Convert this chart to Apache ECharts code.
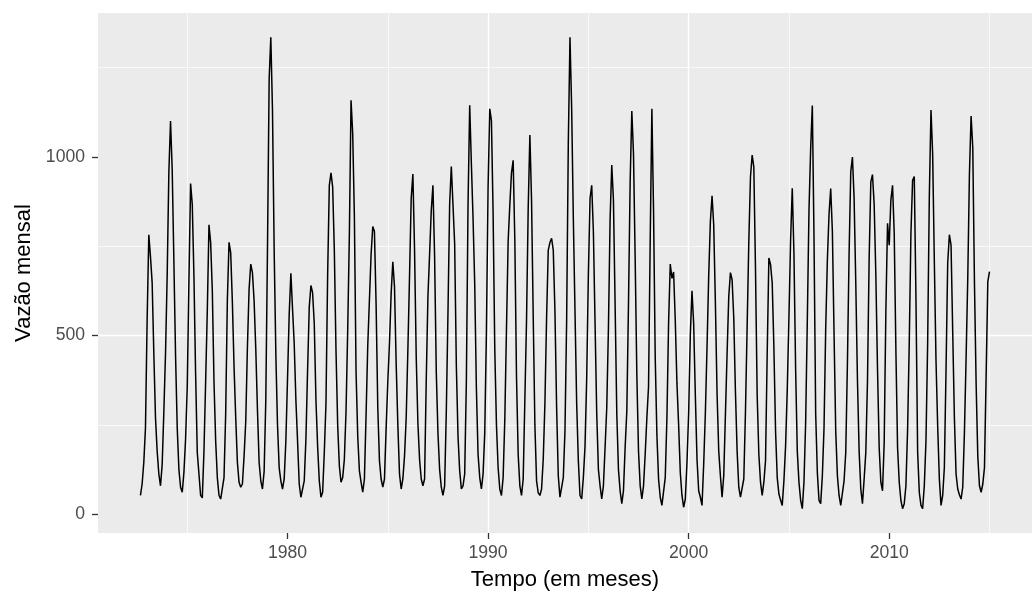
<!DOCTYPE html>
<html><head><meta charset="utf-8">
<script src="https://cdn.jsdelivr.net/npm/echarts@6/dist/echarts.min.js"></script>
<style>html,body{margin:0;padding:0;background:#fff}#c{width:1032px;height:596px}</style>
</head><body><div id="c"></div>
<script>
// Monthly flow series, first value = September 1972; each row = Sep..Aug
const startYear = 1972;
const startMonth = 9;
const flow1970s = [
  53, 85, 145, 242, 545, 782, 720, 648, 450, 270, 177, 113,
  80, 140, 288, 450, 671, 958, 1100, 963, 708, 445, 242, 126,
  76, 62, 117, 210, 357, 653, 925, 867, 667, 394, 173, 113,
  53, 46, 177, 371, 570, 810, 760, 625, 371, 205, 103, 53,
  43, 43, 103, 283, 600, 761, 731, 593, 413, 270, 145, 90,
  76, 85, 163, 260, 468, 630, 700, 676, 597, 463, 293, 145,
  94, 71, 120, 320, 740, 1216, 1334, 1129, 740, 450, 251, 131,
  94, 71, 99, 205, 380, 560, 674, 574, 477, 320, 205, 85
];
const flow1980s = [
  48, 48, 94, 210, 404, 580, 640, 620, 533, 320, 191, 94,
  48, 62, 173, 310, 671, 920, 955, 916, 739, 459, 251, 136,
  90, 103, 154, 288, 514, 782, 1158, 1064, 833, 399, 219, 122,
  90, 62, 99, 279, 472, 600, 727, 805, 791, 586, 298, 150,
  99, 76, 99, 242, 371, 480, 618, 706, 637, 422, 251, 113,
  71, 99, 163, 270, 459, 667, 884, 952, 740, 440, 256, 154,
  99, 80, 99, 376, 609, 727, 850, 920, 721, 399, 228, 126,
  76, 53, 80, 288, 565, 867, 973, 976, 757, 417, 219, 122,
  71, 80, 113, 371, 867, 1144, 980, 828, 644, 353, 168, 103,
  71, 113, 228, 510, 916, 1134, 1101, 842, 463, 251, 131, 71
];
const flow1990s = [
  53, 103, 265, 519, 764, 865, 955, 990, 766, 385, 168, 80,
  53, 99, 320, 542, 856, 1061, 879, 554, 251, 94, 60, 53,
  71, 154, 310, 549, 739, 760, 772, 739, 568, 299, 108, 48,
  53, 103, 233, 542, 1040, 1334, 1137, 829, 568, 310, 150, 53,
  43, 103, 191, 380, 671, 884, 920, 791, 536, 283, 126, 80,
  43, 80, 187, 298, 519, 824, 977, 879, 586, 283, 126, 66,
  30, 66, 187, 288, 586, 930, 1128, 1008, 716, 390, 177, 80,
  43, 80, 168, 270, 357, 768, 1134, 850, 440, 223, 99, 48,
  25, 25, 103, 270, 536, 700, 660, 678, 542, 367, 251, 117,
  53, 20, 43, 145, 283, 503, 625, 533, 334, 154, 66, 48
];
const flow2000s = [
  25, 140, 283, 468, 667, 819, 891, 809, 592, 339, 177, 108,
  48, 108, 279, 450, 609, 676, 656, 549, 343, 177, 76, 48,
  48, 99, 288, 526, 763, 944, 1005, 971, 685, 334, 168, 90,
  53, 90, 150, 450, 717, 699, 647, 468, 233, 103, 57, 40,
  25, 94, 191, 348, 549, 768, 912, 730, 408, 177, 90, 40,
  16, 90, 256, 542, 850, 1022, 1143, 776, 283, 117, 39, 30,
  108, 242, 519, 711, 840, 911, 791, 505, 233, 108, 53, 25,
  25, 94, 173, 422, 730, 958, 999, 884, 647, 376, 177, 71,
  30, 99, 173, 371, 717, 930, 950, 867, 671, 408, 187, 90,
  66, 201, 568, 814, 753, 879, 920, 786, 459, 187, 90, 39
];
const flow2010s = [
  16, 30, 80, 237, 481, 786, 934, 945, 607, 177, 62, 25,
  16, 80, 205, 477, 888, 1131, 1008, 708, 431, 247, 99, 25,
  53, 131, 404, 703, 782, 753, 510, 270, 113, 71, 55, 43,
  76, 228, 436, 660, 952, 1114, 1026, 651, 367, 163, 80, 62,
  85, 131, 390, 651, 679
];
const xTickLabels = [1980, 1990, 2000, 2010];
const yTickLabels = [0, 500, 1000];
const xTitle = 'Tempo (em meses)';
const yTitle = 'Vazão mensal';

const flow = [].concat(flow1970s, flow1980s, flow1990s, flow2000s, flow2010s);
const seriesData = flow.map((v, i) => [startYear + (startMonth - 1 + i) / 12, v]);

const FONT = 'Liberation Sans, Arial, sans-serif';
const chart = echarts.init(document.getElementById('c'), null, {renderer: 'canvas'});
chart.setOption({
  animation: false,
  backgroundColor: '#ffffff',
  grid: {left: 98, right: -12, top: 13, bottom: 58, show: true, backgroundColor: '#EBEBEB', borderWidth: 0},
  xAxis: {
    type: 'value', min: 1970.55, max: 2017.12, minInterval: 10, maxInterval: 10,
    name: xTitle, nameLocation: 'middle', nameGap: 36,
    nameTextStyle: {color: '#000000', fontSize: 22, fontFamily: FONT},
    axisLine: {show: false, onZero: false},
    axisTick: {show: true, length: 6, customValues: xTickLabels, lineStyle: {color: '#333333', width: 1.3}},
    axisLabel: {customValues: xTickLabels, color: '#4D4D4D', fontSize: 17.6, fontFamily: FONT, margin: 11,
      formatter: v => String(v)},
    splitLine: {show: true, showMinLine: false, showMaxLine: false, lineStyle: {color: '#ffffff', width: 1.4}},
    minorTick: {show: false, splitNumber: 2},
    minorSplitLine: {show: true, lineStyle: {color: '#ffffff', width: 0.7}}
  },
  yAxis: {
    type: 'value', min: -52, max: 1402, minInterval: 500, maxInterval: 500,
    name: yTitle, nameLocation: 'middle', nameGap: 62,
    nameTextStyle: {color: '#000000', fontSize: 22, fontFamily: FONT},
    axisLine: {show: false, onZero: false},
    axisTick: {show: true, length: 6, customValues: yTickLabels, lineStyle: {color: '#333333', width: 1.3}},
    axisLabel: {customValues: yTickLabels, color: '#4D4D4D', fontSize: 17.6, fontFamily: FONT, margin: 13,
      formatter: v => String(v)},
    splitLine: {show: true, showMinLine: false, showMaxLine: false, lineStyle: {color: '#ffffff', width: 1.4}},
    minorTick: {show: false, splitNumber: 2},
    minorSplitLine: {show: true, lineStyle: {color: '#ffffff', width: 0.7}}
  },
  series: [{
    type: 'line', data: seriesData, showSymbol: false, symbol: 'none',
    lineStyle: {color: '#000000', width: 1.5}, clip: true
  }]
});
</script></body></html>
